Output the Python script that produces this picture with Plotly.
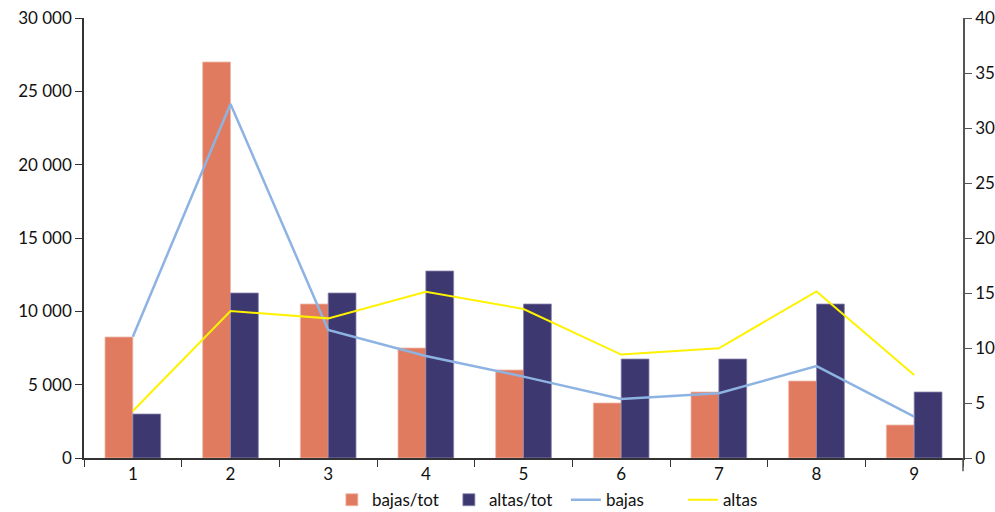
import plotly.graph_objects as go

categories = ["1", "2", "3", "4", "5", "6", "7", "8", "9"]
bajas_tot = [11, 36, 14, 10, 8, 5, 6, 7, 3]
altas_tot = [4, 15, 15, 17, 14, 9, 9, 14, 6]
bajas = [8270, 24140, 8730, 6950, 5550, 4020, 4410, 6270, 2820]
altas = [3200, 10020, 9520, 11340, 10160, 7050, 7480, 11360, 5660]

font_family = "Lato, Open Sans, sans-serif"

fig = go.Figure()
fig.add_trace(go.Bar(x=categories, y=bajas_tot, name="bajas/tot",
                     marker=dict(color="#E07B5F", line=dict(color="#F0B8A8", width=0.8)),
                     yaxis="y"))
fig.add_trace(go.Bar(x=categories, y=altas_tot, name="altas/tot",
                     marker=dict(color="#3D386F", line=dict(color="#8A86B0", width=0.8)),
                     yaxis="y"))
fig.add_trace(go.Scatter(x=categories, y=bajas, name="bajas", mode="lines",
                         line=dict(color="#8DB3E2", width=2.5), yaxis="y2"))
fig.add_trace(go.Scatter(x=categories, y=altas, name="altas", mode="lines",
                         line=dict(color="#FFF200", width=2), yaxis="y2"))

fig.update_layout(
    width=995, height=512,
    margin=dict(l=84, r=32, t=18, b=54, autoexpand=False),
    paper_bgcolor="white", plot_bgcolor="white",
    barmode="group", bargap=0.43, bargroupgap=0,
    separators=", ",
    font=dict(family=font_family, size=17, color="#111111"),
    showlegend=True,
    legend=dict(orientation="h", x=0.282, xanchor="left", y=-0.055, yanchor="top",
                font=dict(size=17, color="#111111"), traceorder="normal",
                itemwidth=30, tracegroupgap=0, entrywidth=72),
    xaxis=dict(showline=True, linecolor="#333333", linewidth=1.5,
               ticks="outside", tickson="boundaries", ticklen=7, tickcolor="#333333",
               showgrid=False, tickfont=dict(size=17)),
    yaxis=dict(side="right", range=[0, 40], dtick=5, showline=True, linecolor="#555555",
               linewidth=1.5, ticks="outside", ticklen=7, tickcolor="#555555",
               showgrid=False, zeroline=False, tickfont=dict(size=17)),
    yaxis2=dict(side="left", overlaying="y", range=[0, 30000], dtick=5000,
                tickformat=",d", showline=True, linecolor="#333333", linewidth=1.5,
                ticks="outside", ticklen=7, tickcolor="#333333", showgrid=False,
                zeroline=False, tickfont=dict(size=17)),
    shapes=[dict(type="line", xref="paper", yref="paper", x0=1, x1=1, y0=0, y1=-0.03,
                 line=dict(color="#555555", width=1.5))],
)

fig.write_html("out.html", config={"displayModeBar": False},
               post_script="document.body.style.margin='0';document.body.style.overflow='hidden';")
